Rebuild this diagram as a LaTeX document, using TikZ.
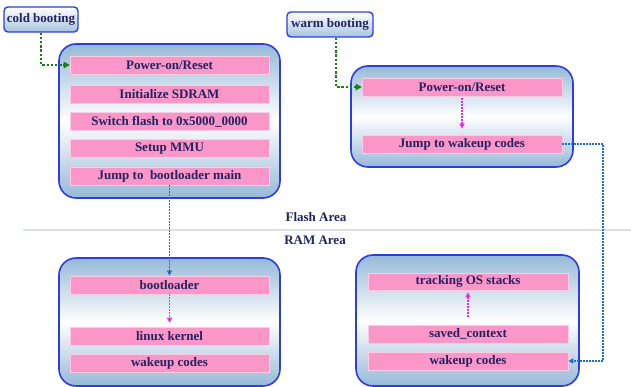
\documentclass[tikz,border=0pt]{standalone}
\usepackage{fontspec}
\setmainfont{Liberation Serif}
\usetikzlibrary{arrows.meta}
\definecolor{pinkbar}{RGB}{250,150,200}
\definecolor{navytext}{RGB}{35,35,95}
\definecolor{boxblue}{RGB}{45,60,230}
\definecolor{shadeblue}{RGB}{150,185,215}
\definecolor{greenarr}{RGB}{20,130,20}
\definecolor{bluearr}{RGB}{30,110,200}
\definecolor{magarr}{RGB}{240,40,230}
\definecolor{sepgray}{RGB}{215,225,232}
\tikzset{
  txt/.style={text=navytext, font=\fontsize{13}{15}\selectfont\bfseries},
  bigbox/.style={draw=boxblue, line width=1.6pt, rounded corners=17pt,
    top color=shadeblue, bottom color=shadeblue, middle color=white, inner sep=0pt},
  bar/.style={txt, fill=pinkbar, draw=pinkbar!50!white, line width=0.6pt, inner sep=0pt, minimum width=199pt, minimum height=18pt},
  tag/.style={txt, draw=boxblue, line width=1.4pt, rounded corners=4pt,
    top color=white, bottom color=shadeblue!85, inner sep=0pt},
  garrow/.style={greenarr, line width=2.4pt, dash pattern=on 2.4pt off 1.8pt, -{Triangle[length=6pt,width=6.5pt]}},
  barrow/.style={bluearr, line width=1.6pt, dash pattern=on 1.6pt off 1.4pt, -{Triangle[length=5pt,width=5pt]}},
  marrow/.style={magarr, line width=1.5pt, dash pattern=on 1.5pt off 1.5pt, -{Triangle[length=5pt,width=5pt]}},
}
\begin{document}
\begin{tikzpicture}[x=1pt,y=-1pt]
\useasboundingbox (0,0) rectangle (631,387);
% separator
\coordinate (sepL) at (23,230);
\coordinate (sepR) at (631,230);
\draw[sepgray, line width=1.2pt] (sepL) -- (sepR);
\node[txt] (flash) at (316,217) {Flash Area};
\node[txt] (ram) at (315,240) {RAM Area};
% big boxes
\node[bigbox, minimum width=221pt, minimum height=154pt] (box1) at (169.5,121) {};
\node[bigbox, minimum width=222pt, minimum height=101pt] (box2) at (462,116.5) {};
\node[bigbox, minimum width=221pt, minimum height=128pt] (box3) at (169.5,322) {};
\node[bigbox, minimum width=223pt, minimum height=131pt] (box4) at (467.5,320.5) {};
% tags
\node[tag, minimum width=74pt, minimum height=25pt] (cold) at (41,19.5) {cold booting};
\node[tag, minimum width=86pt, minimum height=25pt] (warm) at (330,24.5) {warm booting};
% bars box1
\node[bar] (pw1) at (169.5,65) {Power-on/Reset};
\node[bar] (sdram) at (169.5,94) {Initialize SDRAM};
\node[bar] (flashsw) at (169.5,121.5) {Switch flash to 0x5000\_0000};
\node[bar] (mmu) at (169.5,148.5) {Setup MMU};
\node[bar] (jmp1) at (169.5,176) {Jump to\ \ bootloader main};
% bars box2
\node[bar, minimum width=200pt] (pw2) at (462,87) {Power-on/Reset};
\node[bar, minimum width=200pt] (jw) at (462,144) {Jump to wakeup codes};
% bars box3
\node[bar] (boot) at (169.5,285) {bootloader};
\node[bar] (linux) at (169.5,336) {linux kernel};
\node[bar] (wake1) at (169.5,363.5) {wakeup codes};
% bars box4
\node[bar, minimum width=200pt, minimum height=17pt] (track) at (468,281.5) {tracking OS stacks};
\node[bar, minimum width=200pt] (saved) at (468,334) {saved\_context};
\node[bar, minimum width=200pt] (wake2) at (468,361) {wakeup codes};
% connectors
\draw[garrow] (cold.south) |- (pw1.west);
\draw[garrow] ([xshift=6pt]warm.south) |- (pw2.west);
\draw[barrow] (jmp1.south) -- (boot.north);
\draw[marrow, shorten >=4pt] (boot.south) -- (linux.north);
\draw[marrow, shorten <=2pt, shorten >=6pt] (pw2.south) -- (jw.north);
\draw[marrow, shorten <=8pt, shorten >=2pt] (saved.north) -- (track.south);
\coordinate (bend) at (603,250);
\draw[barrow] (jw.east) -- (jw.east -| bend) |- (wake2.east);
\end{tikzpicture}
\end{document}
